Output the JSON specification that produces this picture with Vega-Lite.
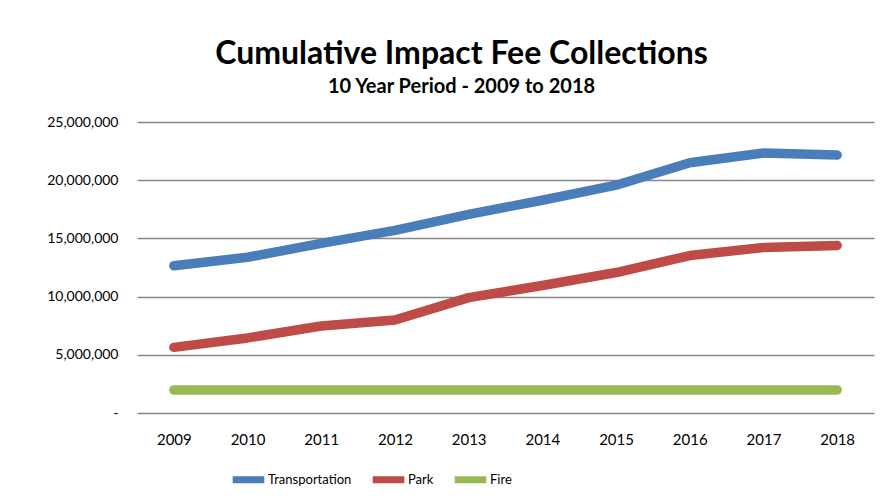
{
  "$schema": "https://vega.github.io/schema/vega-lite/v6.json",
  "autosize": {"type": "none"},
  "width": 737,
  "height": 291,
  "padding": {"left": 137, "top": 122, "right": 9, "bottom": 91},
  "background": "white",
  "title": {
    "text": "Cumulative Impact Fee Collections",
    "subtitle": "10 Year Period - 2009 to 2018",
    "anchor": "middle",
    "dx": -44,
    "offset": 17,
    "font": "Lato",
    "fontSize": 32,
    "fontWeight": "bold",
    "color": "#000000",
    "subtitleFont": "Lato",
    "subtitleFontSize": 20,
    "subtitleFontWeight": "bold",
    "subtitleColor": "#000000",
    "subtitlePadding": 6
  },
  "config": {
    "view": {"stroke": null},
    "font": "Lato"
  },
  "data": {
    "values": [
      {"year": "2009", "series": "Transportation", "value": 12650000},
      {"year": "2010", "series": "Transportation", "value": 13380000},
      {"year": "2011", "series": "Transportation", "value": 14570000},
      {"year": "2012", "series": "Transportation", "value": 15690000},
      {"year": "2013", "series": "Transportation", "value": 17070000},
      {"year": "2014", "series": "Transportation", "value": 18280000},
      {"year": "2015", "series": "Transportation", "value": 19570000},
      {"year": "2016", "series": "Transportation", "value": 21500000},
      {"year": "2017", "series": "Transportation", "value": 22330000},
      {"year": "2018", "series": "Transportation", "value": 22160000},
      {"year": "2009", "series": "Park", "value": 5640000},
      {"year": "2010", "series": "Park", "value": 6450000},
      {"year": "2011", "series": "Park", "value": 7470000},
      {"year": "2012", "series": "Park", "value": 7990000},
      {"year": "2013", "series": "Park", "value": 9910000},
      {"year": "2014", "series": "Park", "value": 10950000},
      {"year": "2015", "series": "Park", "value": 12070000},
      {"year": "2016", "series": "Park", "value": 13530000},
      {"year": "2017", "series": "Park", "value": 14220000},
      {"year": "2018", "series": "Park", "value": 14400000},
      {"year": "2009", "series": "Fire", "value": 1980000},
      {"year": "2010", "series": "Fire", "value": 1980000},
      {"year": "2011", "series": "Fire", "value": 1980000},
      {"year": "2012", "series": "Fire", "value": 1980000},
      {"year": "2013", "series": "Fire", "value": 1980000},
      {"year": "2014", "series": "Fire", "value": 1980000},
      {"year": "2015", "series": "Fire", "value": 1980000},
      {"year": "2016", "series": "Fire", "value": 1980000},
      {"year": "2017", "series": "Fire", "value": 1980000},
      {"year": "2018", "series": "Fire", "value": 1980000}
    ]
  },
  "mark": {"type": "line", "strokeWidth": 9.5, "strokeCap": "round", "strokeJoin": "round"},
  "encoding": {
    "x": {
      "field": "year",
      "type": "ordinal",
      "scale": {"type": "point", "padding": 0.5},
      "axis": {
        "title": null,
        "labelAngle": 0,
        "domain": false,
        "ticks": false,
        "grid": false,
        "labelFontSize": 15,
        "labelColor": "#000000",
        "labelPadding": 19,
        "labelFont": "Lato"
      }
    },
    "y": {
      "field": "value",
      "type": "quantitative",
      "scale": {"domain": [0, 25000000]},
      "axis": {
        "title": null,
        "values": [0, 5000000, 10000000, 15000000, 20000000, 25000000],
        "labelExpr": "datum.value == 0 ? '-' : format(datum.value, ',')",
        "domain": false,
        "ticks": false,
        "grid": true,
        "gridColor": "#888888",
        "gridWidth": 1.5,
        "labelFontSize": 14,
        "labelColor": "#000000",
        "labelPadding": 19,
        "labelFont": "Lato"
      }
    },
    "color": {
      "field": "series",
      "type": "nominal",
      "sort": ["Transportation", "Park", "Fire"],
      "scale": {
        "domain": ["Transportation", "Park", "Fire"],
        "range": ["#4a7ebb", "#be4b48", "#98b954"]
      },
      "legend": {
        "title": null,
        "orient": "none",
        "direction": "horizontal",
        "legendX": 92,
        "legendY": 338,
        "symbolType": "stroke",
        "symbolSize": 1000,
        "symbolStrokeWidth": 7,
        "labelFontSize": 13,
        "labelFont": "Lato",
        "labelColor": "#000000",
        "labelOffset": 0,
        "columnPadding": 6
      }
    }
  }
}
